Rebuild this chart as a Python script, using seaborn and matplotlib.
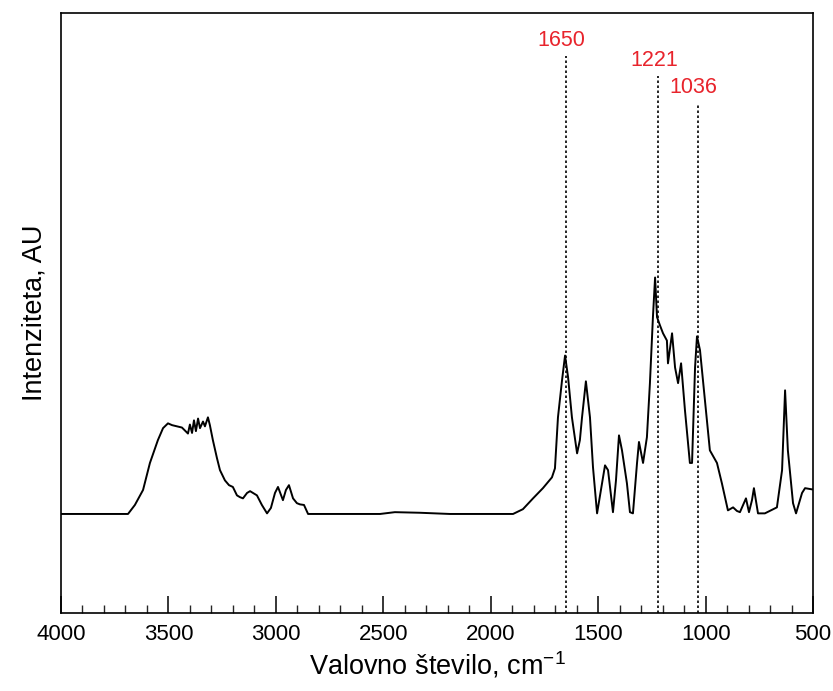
import matplotlib
matplotlib.use("Agg")
import matplotlib.pyplot as plt
import seaborn as sns
import pandas as pd
from matplotlib.ticker import MultipleLocator

# Spectrum (wavenumber, cm-1) and intensity (AU)
wavenumber = [4000, 3688, 3656, 3618, 3586, 3549, 3525, 3502, 3483, 3460, 3437, 3423, 3409,
              3400, 3390, 3381, 3372, 3362, 3353, 3339, 3330, 3316, 3307, 3293, 3274, 3260,
              3237, 3218, 3200, 3181, 3167, 3153, 3134, 3120, 3106, 3088, 3065, 3041, 3023,
              3004, 2990, 2967, 2953, 2939, 2920, 2902, 2888, 2869, 2850, 2515, 2446, 2329,
              2190, 1910, 1896, 1850, 1803, 1757, 1715, 1701, 1687, 1668, 1654, 1640, 1622,
              1598, 1585, 1575, 1557, 1538, 1524, 1505, 1487, 1468, 1454, 1440, 1431, 1417,
              1403, 1389, 1366, 1352, 1338, 1319, 1310, 1291, 1273, 1259, 1245, 1235, 1226,
              1212, 1198, 1180, 1175, 1156, 1142, 1128, 1114, 1096, 1073, 1063, 1049, 1040,
              1026, 1003, 980, 947, 924, 896, 872, 854, 840, 812, 798, 784, 775, 756, 724,
              668, 644, 630, 617, 593, 579, 551, 537, 505, 500]
intensity = [16.5, 16.5, 18.0, 20.5, 25.0, 28.8, 30.8, 31.6, 31.3, 31.1, 30.9, 30.4, 29.9,
             31.4, 30.0, 32.1, 30.3, 32.4, 30.8, 31.9, 31.1, 32.6, 31.3, 28.8, 25.8, 23.8,
             22.1, 21.3, 21.0, 19.6, 19.3, 19.1, 20.0, 20.3, 20.0, 19.6, 18.0, 16.6, 17.5,
             20.0, 21.0, 18.8, 20.5, 21.3, 19.1, 18.3, 18.1, 18.0, 16.5, 16.5, 16.8, 16.7,
             16.5, 16.5, 16.5, 17.3, 19.1, 20.8, 22.6, 24.1, 32.6, 38.8, 42.9, 39.3, 32.6,
             26.6, 28.8, 32.6, 38.6, 32.6, 24.3, 16.6, 20.5, 24.6, 23.8, 19.6, 16.8, 22.1,
             29.6, 27.1, 21.6, 16.8, 16.6, 25.0, 28.5, 25.0, 29.3, 38.3, 49.3, 55.9, 49.3,
             47.9, 46.6, 45.4, 41.6, 46.6, 40.9, 38.3, 41.6, 33.8, 25.0, 25.0, 40.9, 46.1,
             43.8, 35.4, 27.1, 25.0, 21.6, 17.1, 17.6, 17.0, 16.8, 19.1, 16.8, 18.8, 20.8,
             16.6, 16.6, 17.6, 23.8, 37.1, 27.1, 18.3, 16.6, 20.0, 20.8, 20.6, 20.6]

# Marked peaks
peak_labels = ["1650", "1221", "1036"]
peak_positions = [1650, 1221, 1036]
peak_line_tops = [92.8, 89.4, 84.9]

x_ticks = [4000, 3500, 3000, 2500, 2000, 1500, 1000, 500]

sns.set_theme(style="white")
plt.rcParams["font.family"] = ["Liberation Sans", "DejaVu Sans"]
plt.rcParams["mathtext.default"] = "regular"

fig = plt.figure(figsize=(8.33, 6.91), dpi=100)
ax = fig.add_axes([0.0732, 0.1129, 0.9028, 0.8685])

df = pd.DataFrame({"wn": wavenumber, "I": intensity})
sns.lineplot(data=df, x="wn", y="I", sort=False, estimator=None, color="black",
             linewidth=1.4, ax=ax)

for lab, pos, top in zip(peak_labels, peak_positions, peak_line_tops):
    ax.plot([pos, pos], [0, top], linestyle=(0, (1.5, 1.5)), color="black", linewidth=1.2)
    ax.text(pos + 20, top + 0.9, lab, color="#e8242c", fontsize=15.5,
            ha="center", va="bottom")

ax.set_xlim(4000, 500)
ax.set_ylim(0, 100)
ax.set_xticks(x_ticks)
ax.set_xticklabels([str(t) for t in x_ticks])
ax.xaxis.set_minor_locator(MultipleLocator(100))
ax.set_yticks([])
ax.tick_params(axis="x", which="major", direction="in", length=12, width=1.1,
               labelsize=16, pad=8, bottom=True, colors="black")
ax.tick_params(axis="x", which="minor", direction="in", length=6, width=1.0, bottom=True)
for s in ax.spines.values():
    s.set_color("black")
    s.set_linewidth(1.2)

ax.set_xlabel("Valovno število, cm$^{-1}$", fontsize=19.5, labelpad=3, color="black")
ax.set_ylabel("Intenziteta, AU", fontsize=19.5, labelpad=10, color="black")

fig.savefig("out.png", dpi=100)
